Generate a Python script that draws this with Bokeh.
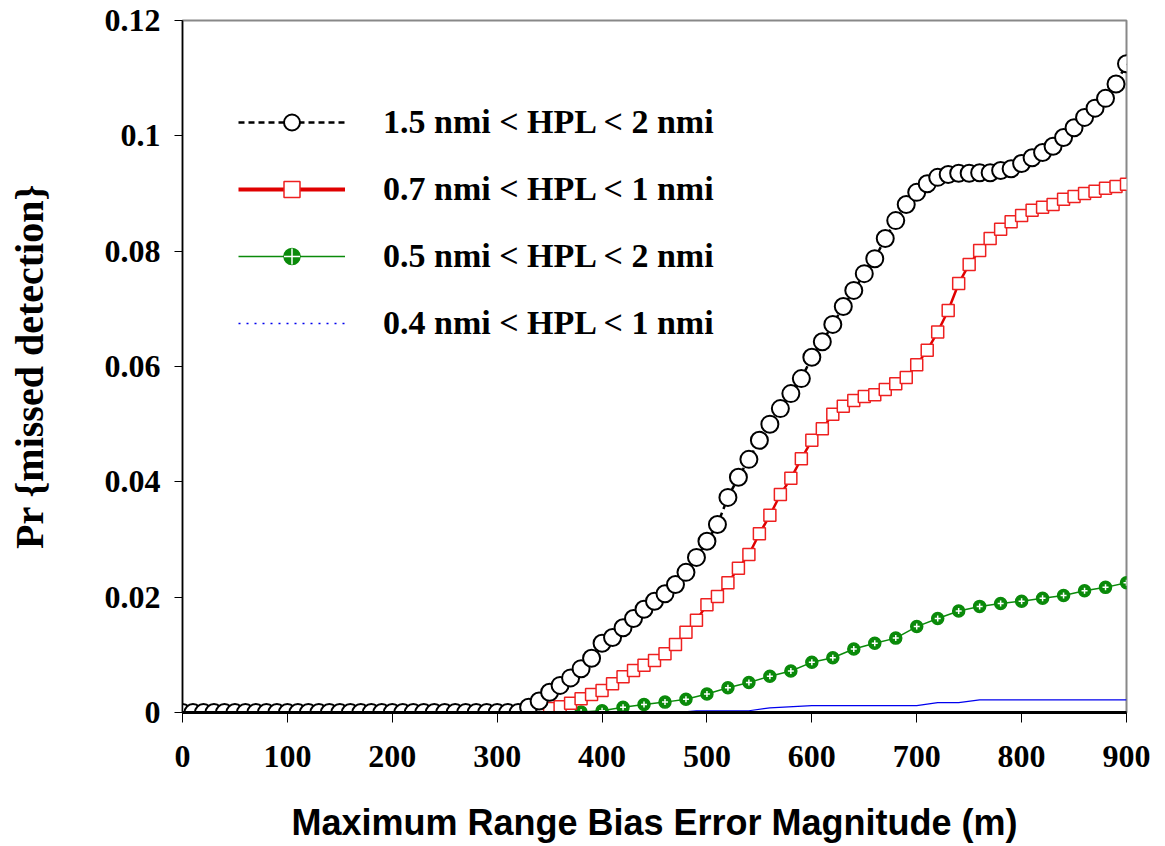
from bokeh.plotting import figure
from bokeh.models import (FixedTicker, CustomJSTickFormatter, Legend, LegendItem,
                          ColumnDataSource, Range1d)
from bokeh.embed import file_html
from bokeh.resources import INLINE

# ---------------- data ----------------
x_black = list(range(0, 910, 10))
y_black = [0.0] * 33 + [
    0.0009, 0.0020, 0.0035, 0.0047, 0.0060, 0.0076, 0.0094, 0.0120, 0.0130, 0.0147,
    0.0163, 0.0179, 0.0193, 0.0206, 0.0222, 0.0243, 0.0269, 0.0297, 0.0326, 0.0373,
    0.0408, 0.0439, 0.0472, 0.0500, 0.0527, 0.0553, 0.0579, 0.0616, 0.0643, 0.0673,
    0.0704, 0.0732, 0.0761, 0.0787, 0.0822, 0.0853, 0.0881, 0.0902, 0.0917, 0.0928,
    0.0933, 0.0935, 0.0935, 0.0936, 0.0936, 0.0940, 0.0943, 0.0952, 0.0962, 0.0971,
    0.0982, 0.0997, 0.1014, 0.1032, 0.1048, 0.1065, 0.1090, 0.1125]

x_red = list(range(330, 910, 10))
y_red = [
    0.0000, 0.0003, 0.0007, 0.0010, 0.0016, 0.0024, 0.0031, 0.0038, 0.0050, 0.0062,
    0.0073, 0.0082, 0.0090, 0.0102, 0.0118, 0.0139, 0.0160, 0.0187, 0.0201, 0.0225,
    0.0250, 0.0274, 0.0310, 0.0342, 0.0378, 0.0406, 0.0440, 0.0472, 0.0492, 0.0517,
    0.0531, 0.0541, 0.0548, 0.0551, 0.0560, 0.0570, 0.0581, 0.0603, 0.0628, 0.0660,
    0.0697, 0.0744, 0.0777, 0.0801, 0.0822, 0.0838, 0.0851, 0.0862, 0.0871, 0.0876,
    0.0881, 0.0890, 0.0895, 0.0900, 0.0904, 0.0909, 0.0912, 0.0916]

x_green = list(range(360, 910, 20))
y_green = [
    0.0000, 0.0001, 0.0003, 0.0009, 0.0014, 0.0018, 0.0023, 0.0032, 0.0043, 0.0052,
    0.0063, 0.0072, 0.0087, 0.0095, 0.0110, 0.0120, 0.0129, 0.0149, 0.0163, 0.0176,
    0.0184, 0.0189, 0.0193, 0.0198, 0.0203, 0.0211, 0.0217, 0.0225]

x_blue = [380, 470, 490, 540, 560, 600, 700, 720, 740, 760, 900]
y_blue = [0.0, 0.0, 0.0003, 0.0003, 0.0008, 0.0012, 0.0012, 0.0017, 0.0017, 0.0022, 0.0022]

labels = ["1.5 nmi < HPL < 2 nmi", "0.7 nmi < HPL < 1 nmi",
          "0.5 nmi < HPL < 2 nmi", "0.4 nmi < HPL < 1 nmi"]
x_ticks = [0, 100, 200, 300, 400, 500, 600, 700, 800, 900]
y_ticks = [0, 0.02, 0.04, 0.06, 0.08, 0.1, 0.12]

# ---------------- figure ----------------
p = figure(width=1160, height=845, x_range=Range1d(0, 900), y_range=Range1d(0, 0.12),
           output_backend="svg", toolbar_location=None,
           min_border_left=182, min_border_right=34, min_border_top=20, min_border_bottom=128)
p.grid.visible = False
p.background_fill_color = "white"
p.border_fill_color = "white"
p.outline_line_color = "#888888"
p.outline_line_width = 2

SERIF = "Liberation Serif"

p.xaxis.ticker = FixedTicker(ticks=x_ticks)
p.yaxis.ticker = FixedTicker(ticks=y_ticks)
p.yaxis.formatter = CustomJSTickFormatter(code="return String(Math.round(tick*100)/100);")
for ax in (p.xaxis[0], p.yaxis[0]):
    ax.major_label_text_font = SERIF
    ax.major_label_text_font_style = "bold"
    ax.major_label_text_font_size = "32px"
    ax.major_label_text_color = "black"
    ax.axis_label_text_color = "black"
    ax.minor_tick_line_color = None
    ax.major_tick_in = 0
    ax.axis_line_color = "black"
    ax.major_tick_line_color = "black"

p.xaxis.axis_line_width = 3
p.xaxis.major_tick_out = 10
p.xaxis.major_label_standoff = 23
p.xaxis.axis_label = "Maximum Range Bias Error Magnitude (m)"
p.xaxis.axis_label_text_font = "Liberation Sans"
p.xaxis.axis_label_text_font_style = "bold"
p.xaxis.axis_label_text_font_size = "36px"
p.xaxis.axis_label_standoff = 32

p.yaxis.axis_line_width = 1.5
p.yaxis.major_tick_out = 8
p.yaxis.major_label_standoff = 14
p.yaxis.axis_label = "Pr {missed detection}"
p.yaxis.axis_label_text_font = SERIF
p.yaxis.axis_label_text_font_style = "bold"
p.yaxis.axis_label_text_font_size = "40px"
p.yaxis.axis_label_standoff = 50

NAN2 = [float("nan"), float("nan")]

# ---------------- series ----------------
# blue (drawn first, under everything)
rb = p.line(x_blue, y_blue, line_color="#0000ee", line_width=1.2)
rb_leg = p.line(NAN2, NAN2, line_color="#0000ee", line_width=1.6, line_dash="2 6")

# green
src_g = ColumnDataSource(dict(x=x_green, y=y_green))
rg_line = p.line("x", "y", source=src_g, line_color="#0a8a0a", line_width=1.5)
rg_mark = p.scatter("x", "y", source=src_g, marker="circle", size=12,
                    fill_color="#0a8a0a", line_color="#0a8a0a", line_width=1.5)
rg_cross = p.scatter("x", "y", source=src_g, marker="cross", size=6,
                     line_color="white", line_width=1.5)

# red
src_r = ColumnDataSource(dict(x=x_red, y=y_red))
rr_line = p.line("x", "y", source=src_r, line_color="#e00000", line_width=2.5)
rr_mark = p.scatter("x", "y", source=src_r, marker="square", size=12,
                    fill_color="white", line_color="#ee2020", line_width=1.5)
rr_leg_line = p.line(NAN2, NAN2, line_color="#e00000", line_width=4)

# black
src_k = ColumnDataSource(dict(x=x_black, y=y_black))
rk_line = p.line("x", "y", source=src_k, line_color="black", line_width=2.5, line_dash="6 4")
rk_mark = p.scatter("x", "y", source=src_k, marker="circle", size=17,
                    fill_color="white", line_color="black", line_width=2)

legend = Legend(items=[
    LegendItem(label=labels[0], renderers=[rk_line, rk_mark]),
    LegendItem(label=labels[1], renderers=[rr_leg_line, rr_mark]),
    LegendItem(label=labels[2], renderers=[rg_line, rg_mark, rg_cross]),
    LegendItem(label=labels[3], renderers=[rb_leg]),
], location=(56, 369))
legend.label_text_font = SERIF
legend.label_text_font_style = "bold"
legend.label_text_font_size = "34px"
legend.label_text_color = "black"
legend.glyph_width = 107
legend.glyph_height = 40
legend.label_height = 40
legend.label_standoff = 38
legend.spacing = 27
legend.padding = 0
legend.margin = 0
legend.border_line_color = None
legend.background_fill_alpha = 0
p.add_layout(legend)

open("out.html", "w").write(file_html(p, INLINE))
